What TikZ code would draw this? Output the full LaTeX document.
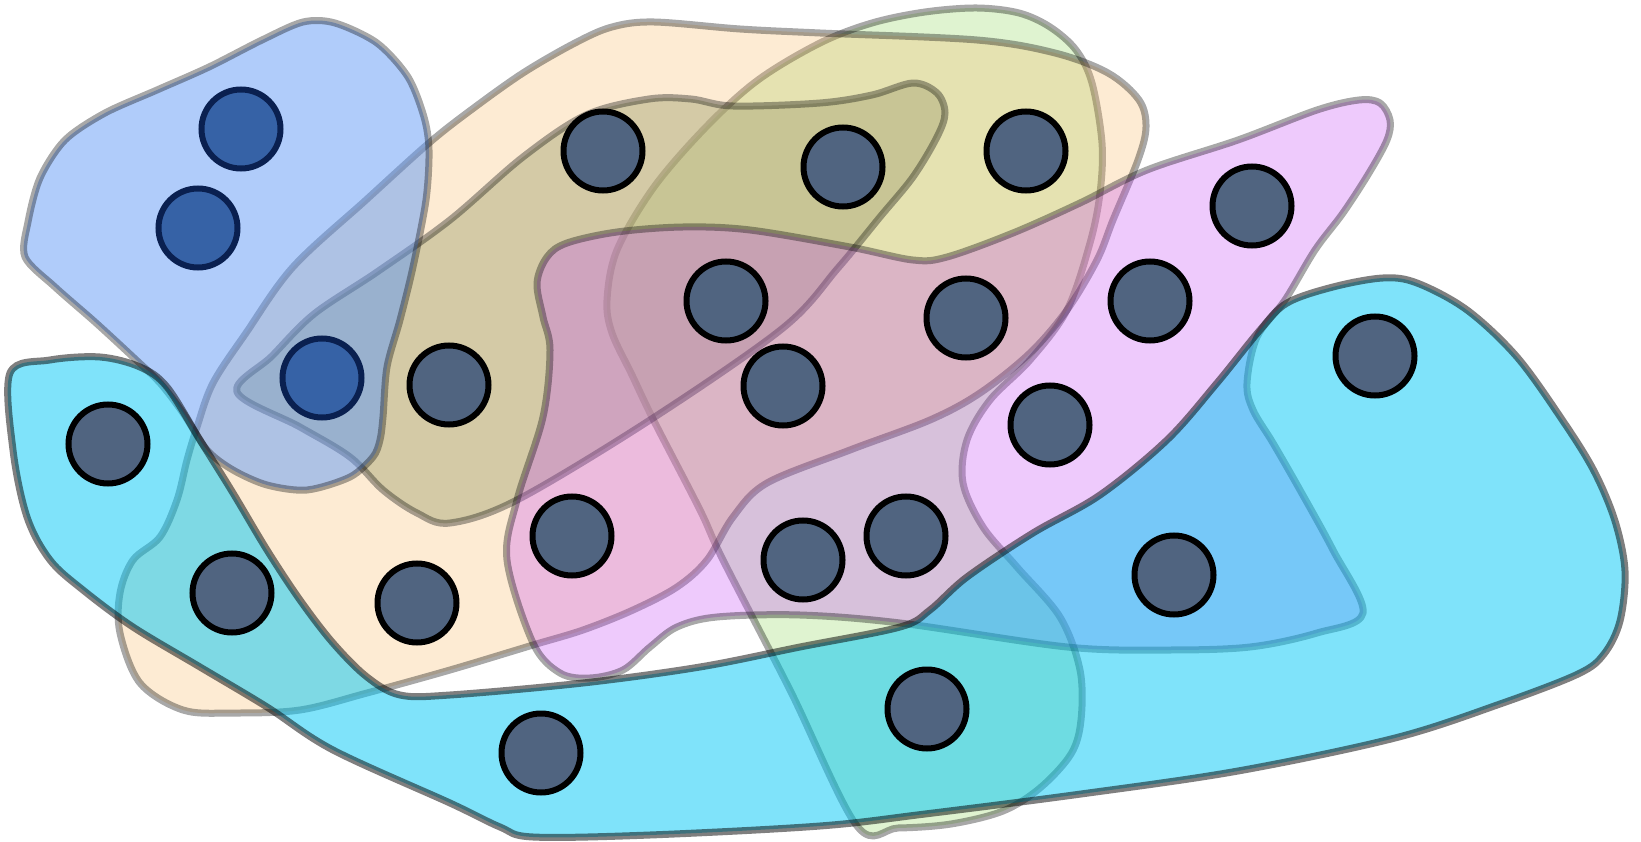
\documentclass[tikz,border=0pt]{standalone}
\usepackage{tikz}
\definecolor{cBeige}{RGB}{248,184,98}
\definecolor{cGreen}{RGB}{148,215,98}
\definecolor{cOlive}{RGB}{171,169,121}
\definecolor{cLilac}{RGB}{198,78,245}
\definecolor{cBlue}{RGB}{97,153,245}
\definecolor{cCyan}{RGB}{0,199,245}
\definecolor{vtxFill}{RGB}{80,100,128}
\definecolor{vtxBlueFill}{RGB}{54,98,166}
\definecolor{vtxBlueLine}{RGB}{10,32,80}
\begin{document}
\begin{tikzpicture}[x=1pt,y=-1pt,
  blob/.style={line width=7pt, draw=black, draw opacity=0.34, line join=round},
  vtx/.style={circle, minimum size=79pt, inner sep=0pt, line width=6pt, draw=black, fill=vtxFill},
  bvtx/.style={vtx, draw=vtxBlueLine, fill=vtxBlueFill}]
\useasboundingbox (0,0) rectangle (1641,842);
% green
\draw[blob, fill=cGreen, fill opacity=0.3] plot[smooth cycle, tension=0.55] coordinates {
(977,8) (1019,13) (1050,27) (1076,50) (1092,83) (1102,143) (1100,193) (1090,243) (1067,310) (1030,360) (990,400) (967,440) (963,483) (983,527) (1017,567) (1060,617) (1080,670) (1081,720) (1071,754) (1040,788) (1003,811) (951,824) (898,828) (857,826) (790,690) (723,560) (700,510) (654,421) (632,375) (612,333) (607,300) (617,250) (654,187) (706,127) (758,80) (820,43) (872,23) (925,12)};
% beige
\draw[blob, fill=cBeige, fill opacity=0.28] plot[smooth cycle, tension=0.55] coordinates {
(654,22) (740,29) (820,33) (977,40) (1055,53) (1108,73) (1139,100) (1146,127) (1138,160) (1113,220) (1097,260) (1067,310) (1030,353) (980,393) (930,420) (850,450) (767,483) (733,517) (707,560) (677,587) (633,610) (583,630) (533,645) (450,670) (367,693) (300,710) (233,713) (183,710) (140,683) (120,633) (120,593) (133,560) (160,537) (177,500) (187,460) (197,427) (213,383) (246,333) (293,267) (366,200) (429,143) (471,110) (523,73) (575,43) (612,27)};
% olive
\draw[blob, fill=cOlive, fill opacity=0.5] plot[smooth cycle, tension=0.55] coordinates {
(237,392) (272,356) (314,314) (377,272) (450,220) (523,157) (586,115) (649,99) (691,99) (733,106) (820,103) (872,95) (913,83) (937,93) (945,113) (937,137) (913,177) (880,217) (838,268) (783,328) (650,420) (517,500) (450,523) (417,513) (383,490) (350,457) (300,427)};
% lilac
\draw[blob, fill=cLilac, fill opacity=0.3] plot[smooth cycle, tension=0.55] coordinates {
(547,257) (567,243) (617,232) (683,227) (750,230) (850,247) (913,260) (947,257) (1013,233) (1080,203) (1147,170) (1238,140) (1317,110) (1359,100) (1380,103) (1390,120) (1387,140) (1369,173) (1343,213) (1315,250) (1285,300) (1257,337) (1247,383) (1253,410) (1273,443) (1300,490) (1333,550) (1363,613) (1317,633) (1250,647) (1167,650) (1067,647) (900,623) (800,615) (717,617) (677,627) (650,647) (623,670) (590,678) (560,673) (533,643) (507,560) (517,500) (543,417) (550,350) (543,317) (537,283)};
% blue
\draw[blob, fill=cBlue, fill opacity=0.5] plot[smooth cycle, tension=0.5] coordinates {
(25,257) (28,222) (40,178) (65,140) (105,113) (157,90) (209,67) (262,40) (303,22) (335,23) (377,43) (408,77) (424,117) (429,150) (426,200) (413,267) (400,320) (387,367) (383,417) (380,440) (373,457) (350,477) (307,490) (267,485) (233,470) (207,450) (183,413) (160,383) (133,357) (95,322) (55,287)};
% cyan
\draw[blob, draw opacity=0.5, fill=cCyan, fill opacity=0.5] plot[smooth cycle, tension=0.55] coordinates {
(10,373) (50,360) (100,357) (140,367) (167,387) (200,440) (233,493) (267,550) (300,600) (333,643) (367,677) (400,695) (450,695) (583,683) (700,667) (800,647) (900,627) (930,610) (967,577) (1033,533) (1100,495) (1167,440) (1217,383) (1260,330) (1287,303) (1333,287) (1383,278) (1417,283) (1467,310) (1517,357) (1563,421) (1594,471) (1615,521) (1625,571) (1620,621) (1604,654) (1578,674) (1500,704) (1395,738) (1238,771) (1081,794) (925,814) (820,826) (650,835) (533,837) (500,827) (450,803) (333,750) (267,707) (200,667) (133,627) (83,590) (50,560) (27,517) (13,450)};
% vertices
\node[bvtx] (n1) at (241,129) {};
\node[bvtx] (n2) at (198,228) {};
\node[bvtx] (n3) at (322,378) {};
\node[vtx] (n4) at (603,151) {};
\node[vtx] (n5) at (843,167) {};
\node[vtx] (n6) at (1026,151) {};
\node[vtx] (n7) at (1252,206) {};
\node[vtx] (n8) at (726,301) {};
\node[vtx] (n9) at (966,318) {};
\node[vtx] (n10) at (1150,301) {};
\node[vtx] (n11) at (783,386) {};
\node[vtx] (n12) at (449,385) {};
\node[vtx] (n13) at (1375,356) {};
\node[vtx] (n14) at (108,444) {};
\node[vtx] (n15) at (1050,425) {};
\node[vtx] (n16) at (572,536) {};
\node[vtx] (n17) at (906,536) {};
\node[vtx] (n18) at (803,560) {};
\node[vtx] (n19) at (1174,575) {};
\node[vtx] (n20) at (232,593) {};
\node[vtx] (n21) at (417,603) {};
\node[vtx] (n22) at (927,709) {};
\node[vtx] (n23) at (541,753) {};
\end{tikzpicture}
\end{document}
